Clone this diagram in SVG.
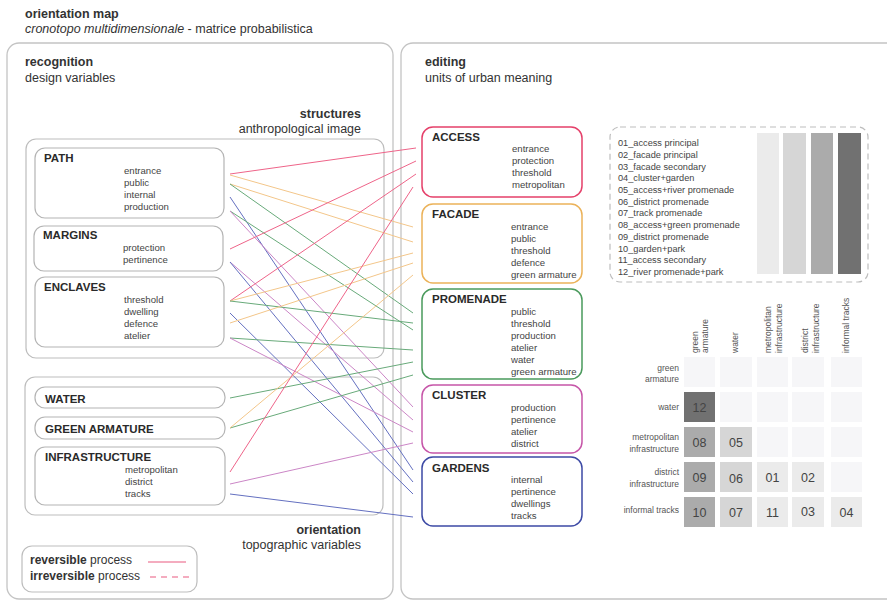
<svg xmlns="http://www.w3.org/2000/svg" width="887" height="601" viewBox="0 0 887 601">
<style>
text{font-family:"Liberation Sans",Arial,sans-serif;fill:#333}
.t{font-size:12.5px}
.b{font-weight:bold}
.h{font-size:11.5px;font-weight:bold;fill:#2a2a2a}
.s{font-size:9.6px;fill:#444}
.lg{font-size:9.2px;fill:#444}
.m{font-size:8.5px;fill:#555}
.n{font-size:12.5px;fill:#444;text-anchor:middle}
.r{text-anchor:end}
.panel{fill:none;stroke:#c4c4c4;stroke-width:1.3}
.grp{fill:none;stroke:#bdbdbd;stroke-width:1.2}
.box{fill:#fff;stroke:#b4b4b4;stroke-width:1.2}
.cb{fill:#fff;stroke-width:1.5}
#connectors line{stroke-width:1;fill:none}
.pk{stroke:#ee6489}.or{stroke:#f3c68a}.gr{stroke:#68aa7a}.pu{stroke:#cb86c6}.bl{stroke:#6470c0}
.c0{fill:#f6f6f8}.c1{fill:#ebebeb}.c2{fill:#d6d6d6}.c3{fill:#ababab}.c4{fill:#717171}
</style>

<g id="title">
<text class="t b" x="25" y="18">orientation map</text>
<text class="t" x="25" y="33"><tspan font-style="italic">cronotopo multidimensionale</tspan> - matrice probabilistica</text>
</g>

<g id="panel-recognition">
<rect class="panel" x="7" y="43" width="386" height="556" rx="12"/>
<text class="t b" x="25" y="66">recognition</text>
<text class="t" x="25" y="82">design variables</text>
</g>

<g id="panel-editing">
<rect class="panel" x="401" y="43" width="500" height="556" rx="12"/>
<text class="t b" x="425" y="66">editing</text>
<text class="t" x="425" y="82">units of urban meaning</text>
</g>

<g id="structures">
<rect class="grp" x="26" y="139" width="358" height="219" rx="10"/>
<text class="t b r" x="361" y="118">structures</text>
<text class="t r" x="361" y="133">anthropological image</text>
</g>

<g id="orientation">
<rect class="grp" x="25" y="377" width="358" height="138" rx="10"/>
<text class="t b r" x="361" y="534">orientation</text>
<text class="t r" x="361" y="549">topographic variables</text>
</g>

<g id="node-path">
<rect class="box" x="35" y="148" width="189" height="70" rx="10"/>
<text class="h" x="44" y="162">PATH</text>
<text class="s" x="124" y="174">entrance</text>
<text class="s" x="124" y="186">public</text>
<text class="s" x="124" y="198">internal</text>
<text class="s" x="124" y="210">production</text>
</g>
<g id="node-margins">
<rect class="box" x="34" y="226" width="189" height="45" rx="10"/>
<text class="h" x="43" y="239">MARGINS</text>
<text class="s" x="123" y="251">protection</text>
<text class="s" x="123" y="263">pertinence</text>
</g>
<g id="node-enclaves">
<rect class="box" x="35" y="277" width="189" height="70" rx="10"/>
<text class="h" x="44" y="291">ENCLAVES</text>
<text class="s" x="124" y="303">threshold</text>
<text class="s" x="124" y="315">dwelling</text>
<text class="s" x="124" y="327">defence</text>
<text class="s" x="124" y="339">atelier</text>
</g>
<g id="node-water">
<rect class="box" x="35" y="387" width="190" height="21" rx="10"/>
<text class="h" x="45" y="403">WATER</text>
</g>
<g id="node-green-armature">
<rect class="box" x="35" y="417" width="190" height="22" rx="10"/>
<text class="h" x="45" y="433">GREEN ARMATURE</text>
</g>
<g id="node-infrastructure">
<rect class="box" x="35" y="447" width="190" height="58" rx="10"/>
<text class="h" x="45" y="461">INFRASTRUCTURE</text>
<text class="s" x="125" y="473">metropolitan</text>
<text class="s" x="125" y="485">district</text>
<text class="s" x="125" y="497">tracks</text>
</g>

<g id="connectors">
<line class="pk" x1="230" y1="174" x2="416" y2="148"/>
<line class="or" x1="230" y1="175" x2="413" y2="227"/>
<line class="or" x1="230" y1="184" x2="413" y2="242"/>
<line class="gr" x1="230" y1="184" x2="413" y2="313"/>
<line class="bl" x1="230" y1="197" x2="413" y2="470"/>
<line class="gr" x1="230" y1="211" x2="413" y2="330"/>
<line class="pu" x1="230" y1="211" x2="413" y2="407"/>
<line class="pk" x1="230" y1="249" x2="416" y2="161"/>
<line class="pu" x1="230" y1="262" x2="413" y2="420"/>
<line class="bl" x1="230" y1="262" x2="413" y2="482"/>
<line class="pk" x1="230" y1="301" x2="416" y2="174"/>
<line class="or" x1="230" y1="301" x2="413" y2="253"/>
<line class="gr" x1="230" y1="301" x2="413" y2="323"/>
<line class="bl" x1="230" y1="313" x2="413" y2="494"/>
<line class="or" x1="230" y1="323" x2="413" y2="263"/>
<line class="gr" x1="230" y1="338" x2="413" y2="350"/>
<line class="pu" x1="230" y1="338" x2="413" y2="432"/>
<line class="gr" x1="230" y1="398" x2="413" y2="362"/>
<line class="gr" x1="230" y1="428" x2="413" y2="375"/>
<line class="or" x1="230" y1="428" x2="413" y2="275"/>
<line class="pk" x1="230" y1="472" x2="413" y2="187"/>
<line class="pu" x1="230" y1="484" x2="413" y2="443"/>
<line class="bl" x1="230" y1="494" x2="413" y2="517"/>
</g>

<g id="node-access">
<rect class="cb" x="422" y="127" width="160" height="70" rx="11" stroke="#e5406a"/>
<text class="h" x="432" y="141">ACCESS</text>
<text class="s" x="512" y="152">entrance</text>
<text class="s" x="512" y="164">protection</text>
<text class="s" x="512" y="176">threshold</text>
<text class="s" x="512" y="188">metropolitan</text>
</g>
<g id="node-facade">
<rect class="cb" x="422" y="204" width="160" height="79" rx="11" stroke="#ebb259"/>
<text class="h" x="432" y="218">FACADE</text>
<text class="s" x="511" y="230">entrance</text>
<text class="s" x="511" y="242">public</text>
<text class="s" x="511" y="254">threshold</text>
<text class="s" x="511" y="266">defence</text>
<text class="s" x="511" y="278">green armature</text>
</g>
<g id="node-promenade">
<rect class="cb" x="422" y="289" width="160" height="90" rx="11" stroke="#4a9a5c"/>
<text class="h" x="432" y="303">PROMENADE</text>
<text class="s" x="511" y="315">public</text>
<text class="s" x="511" y="327">threshold</text>
<text class="s" x="511" y="339">production</text>
<text class="s" x="511" y="351">atelier</text>
<text class="s" x="511" y="363">water</text>
<text class="s" x="511" y="375">green armature</text>
</g>
<g id="node-cluster">
<rect class="cb" x="422" y="385" width="160" height="68" rx="11" stroke="#c655a8"/>
<text class="h" x="432" y="399">CLUSTER</text>
<text class="s" x="511" y="411">production</text>
<text class="s" x="511" y="423">pertinence</text>
<text class="s" x="511" y="435">atelier</text>
<text class="s" x="511" y="447">district</text>
</g>
<g id="node-gardens">
<rect class="cb" x="422" y="457" width="160" height="69" rx="11" stroke="#3d4aa5"/>
<text class="h" x="432" y="472">GARDENS</text>
<text class="s" x="511" y="483">internal</text>
<text class="s" x="511" y="495">pertinence</text>
<text class="s" x="511" y="507">dwellings</text>
<text class="s" x="511" y="519">tracks</text>
</g>

<g id="key">
<rect x="610" y="127" width="258" height="155" rx="10" fill="none" stroke="#bdbdbd" stroke-width="1.2" stroke-dasharray="6,4"/>
<text class="lg" x="618" y="146">01_access principal</text>
<text class="lg" x="618" y="157.7">02_facade principal</text>
<text class="lg" x="618" y="169.5">03_facade secondary</text>
<text class="lg" x="618" y="181.2">04_cluster+garden</text>
<text class="lg" x="618" y="192.9">05_access+river promenade</text>
<text class="lg" x="618" y="204.7">06_district promenade</text>
<text class="lg" x="618" y="216.4">07_track promenade</text>
<text class="lg" x="618" y="228.1">08_access+green promenade</text>
<text class="lg" x="618" y="239.8">09_district promenade</text>
<text class="lg" x="618" y="251.6">10_garden+park</text>
<text class="lg" x="618" y="263.3">11_access secondary</text>
<text class="lg" x="618" y="275">12_river promenade+park</text>
<rect class="c1" x="757" y="133" width="22" height="141"/>
<rect class="c2" x="783" y="133" width="23" height="141"/>
<rect class="c3" x="811" y="133" width="22" height="141"/>
<rect class="c4" x="838" y="133" width="23" height="141"/>
</g>

<g id="matrix">
<text class="m" transform="translate(698,353) rotate(-90)">green</text>
<text class="m" transform="translate(708,353) rotate(-90)">armature</text>
<text class="m" transform="translate(738,353) rotate(-90)">water</text>
<text class="m" transform="translate(771,353) rotate(-90)">metropolitan</text>
<text class="m" transform="translate(782,353) rotate(-90)">infrastructure</text>
<text class="m" transform="translate(808,353) rotate(-90)">district</text>
<text class="m" transform="translate(818.5,353) rotate(-90)">infrastructure</text>
<text class="m" transform="translate(849,353) rotate(-90)">informal tracks</text>

<text class="m r" x="679" y="371">green</text>
<text class="m r" x="679" y="382">armature</text>
<text class="m r" x="679" y="410">water</text>
<text class="m r" x="679" y="440">metropolitan</text>
<text class="m r" x="679" y="452">infrastructure</text>
<text class="m r" x="679" y="475">district</text>
<text class="m r" x="679" y="487">infrastructure</text>
<text class="m r" x="679" y="513">informal tracks</text>

<rect class="c0" x="684" y="357" width="31" height="30"/>
<rect class="c0" x="720" y="357" width="32" height="30"/>
<rect class="c0" x="757" y="357" width="31" height="30"/>
<rect class="c0" x="792" y="357" width="32" height="30"/>
<rect class="c0" x="831" y="357" width="31" height="30"/>

<rect class="c4" x="684" y="392" width="31" height="30"/>
<rect class="c0" x="720" y="392" width="32" height="30"/>
<rect class="c0" x="757" y="392" width="31" height="30"/>
<rect class="c0" x="792" y="392" width="32" height="30"/>
<rect class="c0" x="831" y="392" width="31" height="30"/>

<rect class="c3" x="684" y="427" width="31" height="30"/>
<rect class="c2" x="720" y="427" width="32" height="30"/>
<rect class="c0" x="757" y="427" width="31" height="30"/>
<rect class="c0" x="792" y="427" width="32" height="30"/>
<rect class="c0" x="831" y="427" width="31" height="30"/>

<rect class="c3" x="684" y="462" width="31" height="30"/>
<rect class="c2" x="720" y="462" width="32" height="30"/>
<rect class="c1" x="757" y="462" width="31" height="30"/>
<rect class="c1" x="792" y="462" width="32" height="30"/>
<rect class="c0" x="831" y="462" width="31" height="30"/>

<rect class="c3" x="684" y="497" width="31" height="30"/>
<rect class="c2" x="720" y="497" width="32" height="30"/>
<rect class="c1" x="757" y="497" width="31" height="30"/>
<rect class="c1" x="792" y="497" width="32" height="30"/>
<rect class="c1" x="831" y="497" width="31" height="30"/>

<text class="n" x="699.5" y="412">12</text>
<text class="n" x="699.5" y="447">08</text>
<text class="n" x="736" y="447">05</text>
<text class="n" x="699.5" y="482">09</text>
<text class="n" x="736" y="483">06</text>
<text class="n" x="772.5" y="482">01</text>
<text class="n" x="808" y="482">02</text>
<text class="n" x="699.5" y="517">10</text>
<text class="n" x="736" y="517">07</text>
<text class="n" x="772.5" y="517">11</text>
<text class="n" x="808" y="516">03</text>
<text class="n" x="846.5" y="517">04</text>
</g>

<g id="legend">
<rect x="22" y="546" width="175" height="46" rx="10" fill="none" stroke="#bdbdbd" stroke-width="1.2"/>
<text x="30" y="564" style="font-size:12px"><tspan font-weight="bold">reversible</tspan> process</text>
<text x="30" y="580" style="font-size:12px"><tspan font-weight="bold">irreversible</tspan> process</text>
<line x1="148" y1="562" x2="186" y2="562" stroke="#ea5a80" stroke-width="1.2"/>
<line x1="150" y1="577" x2="189" y2="577" stroke="#ea5a80" stroke-width="1.2" stroke-dasharray="6,5"/>
</g>
</svg>
